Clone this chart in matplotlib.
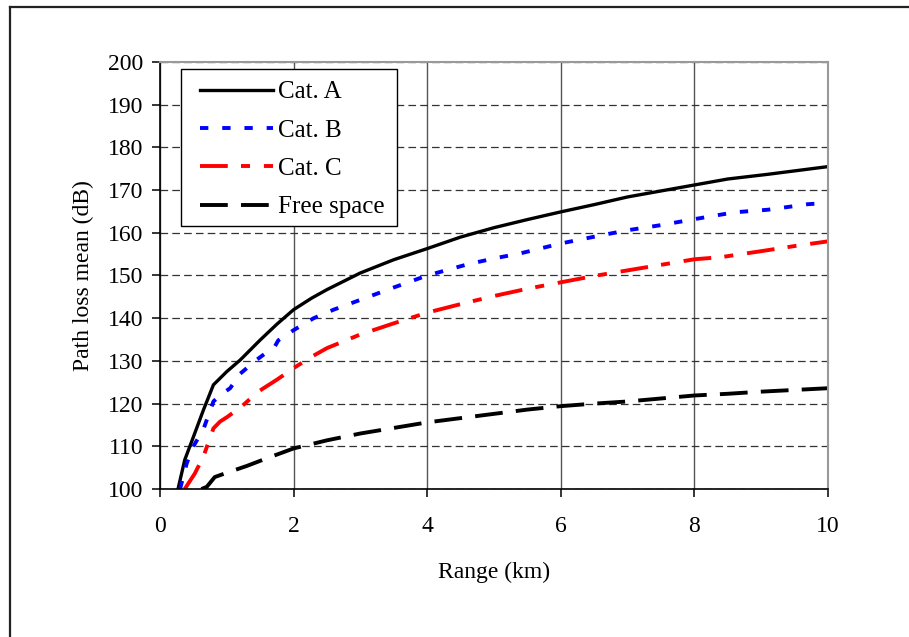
import matplotlib
matplotlib.use("Agg")
import matplotlib.pyplot as plt
from matplotlib.lines import Line2D
from matplotlib.patches import Rectangle

plt.rcParams['font.family'] = ['Liberation Serif', 'DejaVu Serif']
plt.rcParams['lines.scale_dashes'] = False

# path loss mean vs range
cat_a_x = [0.27, 0.37, 0.5, 0.65, 0.8, 1.0, 1.2, 1.5, 1.75, 2.0, 2.27, 2.5, 3.0, 3.5,
           4.0, 4.5, 5.0, 5.5, 6.0, 6.5, 7.0, 7.5, 8.0, 8.5, 9.1, 9.5, 10.0]
cat_a_y = [100, 106.8, 112.2, 118.5, 124.4, 127.5, 130.2, 134.9, 138.6, 142.0, 144.7, 146.7,
           150.6, 153.7, 156.3, 159.0, 161.2, 163.1, 164.9, 166.6, 168.4, 169.8, 171.2,
           172.6, 173.7, 174.5, 175.5]

cat_b_x = [0.3, 0.4, 0.5, 0.65, 0.8, 0.9, 1.05, 1.2, 1.45, 1.72, 1.77, 2.0, 2.3, 2.6, 3.0,
           3.5, 4.0, 4.6, 5.0, 5.4, 6.0, 6.6, 7.0, 7.5, 8.0, 8.6, 9.1, 9.7, 10.0]
cat_b_y = [100, 106, 110, 114, 120.5, 122, 123.6, 127, 130.3, 133.4, 134.8, 137.2, 140, 142,
           144.3, 147.2, 150, 152.6, 154, 155.2, 157.5, 159.4, 160.6, 161.8, 163.2, 164.8,
           165.4, 166.7, 167]

cat_c_x = [0.37, 0.52, 0.65, 0.8, 0.9, 1.0, 1.22, 1.47, 1.75, 2.0, 2.25, 2.5, 3.0, 3.5, 4.0,
           4.5, 5.0, 5.5, 6.0, 6.5, 7.0, 7.5, 8.0, 8.4, 9.0, 9.5, 10.0]
cat_c_y = [100, 103.6, 107.6, 114.2, 115.8, 116.8, 119.3, 122.8, 125.6, 128.3, 130.8, 133,
           136.2, 138.8, 141.3, 143.3, 145.2, 146.9, 148.4, 149.9, 151.2, 152.5, 153.8,
           154.3, 155.7, 156.9, 158]

free_x = [0.62, 0.7, 0.82, 1.0, 1.3, 1.6, 2.0, 2.5, 3.0, 3.5, 4.0, 4.5, 5.0, 5.5, 6.0, 6.5,
          7.0, 7.5, 8.0, 8.5, 9.0, 9.5, 10.0]
free_y = [100, 100.5, 102.8, 103.8, 105.4, 107.2, 109.5, 111.4, 113.0, 114.3, 115.6, 116.6,
          117.6, 118.6, 119.4, 120.0, 120.5, 121.2, 121.9, 122.3, 122.8, 123.2, 123.6]

labels = ['Cat. A', 'Cat. B', 'Cat. C', 'Free space']

fs = 17

fig = plt.figure(figsize=(9.09, 6.37), dpi=100)
ax = fig.add_axes([160/909, 1-489/637, 668/909, 427/637])

ax.plot(cat_a_x, cat_a_y, color='black', lw=2.4, ls='-', label=labels[0])
ax.plot(cat_b_x, cat_b_y, color='#0000ff', lw=2.8, ls=(0, (6, 10)), label=labels[1])
ax.plot(cat_c_x, cat_c_y, color='#ff0000', lw=2.8, ls=(0, (20, 9.5, 6.5, 10)), label=labels[2])
ax.plot(free_x, free_y, color='black', lw=2.8, ls=(0, (20, 9.5)), label=labels[3])

ax.set_xlim(0, 10)
ax.set_ylim(100, 200)
ax.set_xticks(range(0, 11, 2))
ax.set_yticks(range(100, 201, 10))

ax.yaxis.grid(True, color='#333333', lw=0.9, ls=(0, (5.5, 3)))
ax.xaxis.grid(True, color='#555555', lw=1.0, ls='-')
ax.set_axisbelow(True)

for s in ['left', 'bottom']:
    ax.spines[s].set_color('black')
    ax.spines[s].set_linewidth(1.2)
for s in ['top', 'right']:
    ax.spines[s].set_color('#999999')
    ax.spines[s].set_linewidth(1.5)

ax.tick_params(axis='both', direction='out', length=5.5, width=1.1, labelsize=fs, colors='black')
ax.tick_params(axis='x', pad=14)
ax.tick_params(axis='y', pad=6.5)

ax.set_xlabel('Range (km)', fontsize=fs, labelpad=17.5)
ax.set_ylabel('Path loss mean (dB)', fontsize=fs, labelpad=10)

# legend box drawn separately so the padding matches the original
box = Rectangle((21/668, 263/427), 216/668, 157/427, transform=ax.transAxes,
                facecolor='white', edgecolor='black', lw=1.0, zorder=4)
ax.add_patch(box)
leg = ax.legend(loc='upper left', bbox_to_anchor=(40/668, 408/427), borderaxespad=0,
                fontsize=18, handlelength=2.9, handletextpad=0.2, borderpad=0,
                labelspacing=0.63, frameon=False)
leg.set_zorder(5)

# outer frame around the chart (cropped at right and bottom)
fig.add_artist(Line2D([10/909, 10/909], [0, 1-7/637], color='#222222', lw=1.6))
fig.add_artist(Line2D([10/909, 1], [1-7/637, 1-7/637], color='#222222', lw=1.6))

fig.savefig('out.png', dpi=100)
